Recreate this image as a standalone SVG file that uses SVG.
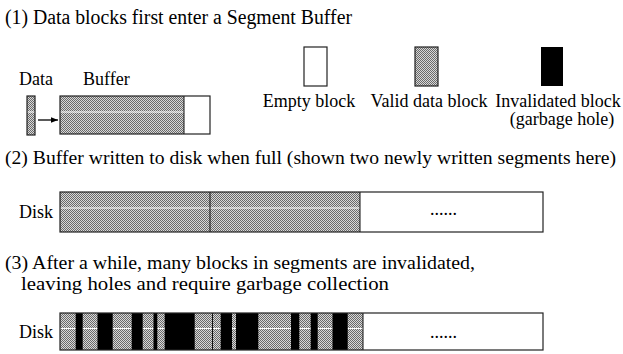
<svg xmlns="http://www.w3.org/2000/svg" width="623" height="354" viewBox="0 0 623 354">
  <defs>
    <!-- dithered grey used for valid data blocks -->
    <pattern id="dither" width="2" height="2" patternUnits="userSpaceOnUse">
      <rect width="2" height="2" fill="#d8d8d8"/>
      <rect width="1" height="1" fill="#6a6a6a"/>
      <rect x="1" y="1" width="1" height="1" fill="#6a6a6a"/>
    </pattern>
    <marker id="arrow" viewBox="0 0 10 10" refX="10" refY="5" markerWidth="7" markerHeight="7" orient="auto" markerUnits="userSpaceOnUse">
      <path d="M0,1 L10,5 L0,9 z" fill="#000"/>
    </marker>
  </defs>
  <style>
    text { font-family: "Liberation Serif", "Times New Roman", serif; font-size: 18px; fill: #000; }
    .title { font-size: 20px; }
    .title2 { font-size: 19.5px; }
    .title3 { font-size: 18.5px; }
    .mid { text-anchor: middle; }
    .valid { fill: url(#dither); }
    .empty { fill: #fff; }
    .hole { fill: #000; }
    .frame { fill: none; stroke: #222; stroke-width: 1.2; }
    .seam { stroke: #fff; stroke-width: 1; }
    .div { stroke: #111; stroke-width: 1; }
  </style>

  <rect width="623" height="354" fill="#fff"/>

  <!-- step 1: segment buffer -->
  <text class="title" x="5" y="24" textLength="347" lengthAdjust="spacingAndGlyphs">(1) Data blocks first enter a Segment Buffer</text>

  <g id="data-block">
    <text x="19" y="85">Data</text>
    <rect class="valid" x="27" y="96" width="8" height="39"/>
    <line class="seam" x1="27" y1="112" x2="35" y2="112"/>
    <rect class="frame" x="27" y="96" width="8" height="39"/>
  </g>

  <g id="buffer">
    <text x="83" y="85">Buffer</text>
    <rect class="valid" x="60" y="96" width="124" height="38"/>
    <line class="seam" x1="60" y1="112" x2="184" y2="112"/>
    <rect class="empty" x="184" y="96" width="26" height="38"/>
    <line class="div" x1="184" y1="96" x2="184" y2="134"/>
    <rect class="frame" x="60" y="96" width="150" height="38"/>
  </g>

  <g id="connectors">
    <line x1="38" y1="120" x2="58" y2="120" stroke="#000" stroke-width="1.3" marker-end="url(#arrow)"/>
  </g>

  <!-- legend -->
  <g id="legend-empty">
    <rect class="empty" x="304" y="47" width="23" height="39"/>
    <rect class="frame" x="304" y="47" width="23" height="39"/>
    <text class="mid" x="309" y="107">Empty block</text>
  </g>
  <g id="legend-valid">
    <rect class="valid" x="415" y="47" width="23" height="39"/>
    <rect class="frame" x="415" y="47" width="23" height="39"/>
    <text class="mid" x="429" y="107">Valid data block</text>
  </g>
  <g id="legend-hole">
    <rect class="hole" x="541" y="47" width="22" height="39"/>
    <text class="mid" x="558" y="107">Invalidated block</text>
    <text class="mid" x="562" y="125">(garbage hole)</text>
  </g>

  <!-- step 2: buffer flushed to disk -->
  <text class="title2" x="5" y="164" textLength="611" lengthAdjust="spacingAndGlyphs">(2) Buffer written to disk when full (shown two newly written segments here)</text>

  <g id="disk-written">
    <text x="19" y="218">Disk</text>
    <rect class="valid" x="60" y="192" width="300" height="40"/>
    <line class="seam" x1="60" y1="208" x2="360" y2="208"/>
    <rect class="empty" x="360" y="192" width="183" height="40"/>
    <line class="div" x1="210" y1="192" x2="210" y2="232"/>
    <line class="div" x1="360" y1="192" x2="360" y2="232" stroke="#777"/>
    <rect class="frame" x="60" y="192" width="483" height="40"/>
    <text x="430" y="215">......</text>
  </g>

  <!-- step 3: holes left after invalidation -->
  <text class="title3" x="5" y="269" textLength="470" lengthAdjust="spacingAndGlyphs">(3) After a while, many blocks in segments are invalidated,</text>
  <text class="title3" x="21" y="290" textLength="368" lengthAdjust="spacingAndGlyphs">leaving holes and require garbage collection</text>

  <g id="disk-fragmented">
    <text x="19" y="338">Disk</text>
    <rect class="valid" x="60" y="313" width="303" height="37"/>
    <line class="seam" x1="60" y1="328.5" x2="363" y2="328.5"/>
    <rect class="hole" x="75.7" y="313" width="7" height="37"/>
    <rect class="hole" x="97.5" y="313" width="15.2" height="37"/>
    <rect class="hole" x="131.7" y="313" width="11" height="37"/>
    <rect class="hole" x="153.5" y="313" width="3.8" height="37"/>
    <rect class="hole" x="164.7" y="313" width="30" height="37"/>
    <rect class="hole" x="220.7" y="313" width="11.3" height="37"/>
    <rect class="hole" x="236" y="313" width="22.3" height="37"/>
    <rect class="hole" x="291" y="313" width="8.3" height="37"/>
    <rect class="hole" x="310.7" y="313" width="7" height="37"/>
    <rect class="hole" x="332.5" y="313" width="15.2" height="37"/>
    <line class="div" x1="212.5" y1="313" x2="212.5" y2="350"/>
    <rect class="empty" x="363" y="313" width="180" height="37"/>
    <line class="div" x1="363" y1="313" x2="363" y2="350" stroke="#777"/>
    <rect class="frame" x="60" y="313" width="483" height="37"/>
    <text x="430" y="338">......</text>
  </g>
</svg>
